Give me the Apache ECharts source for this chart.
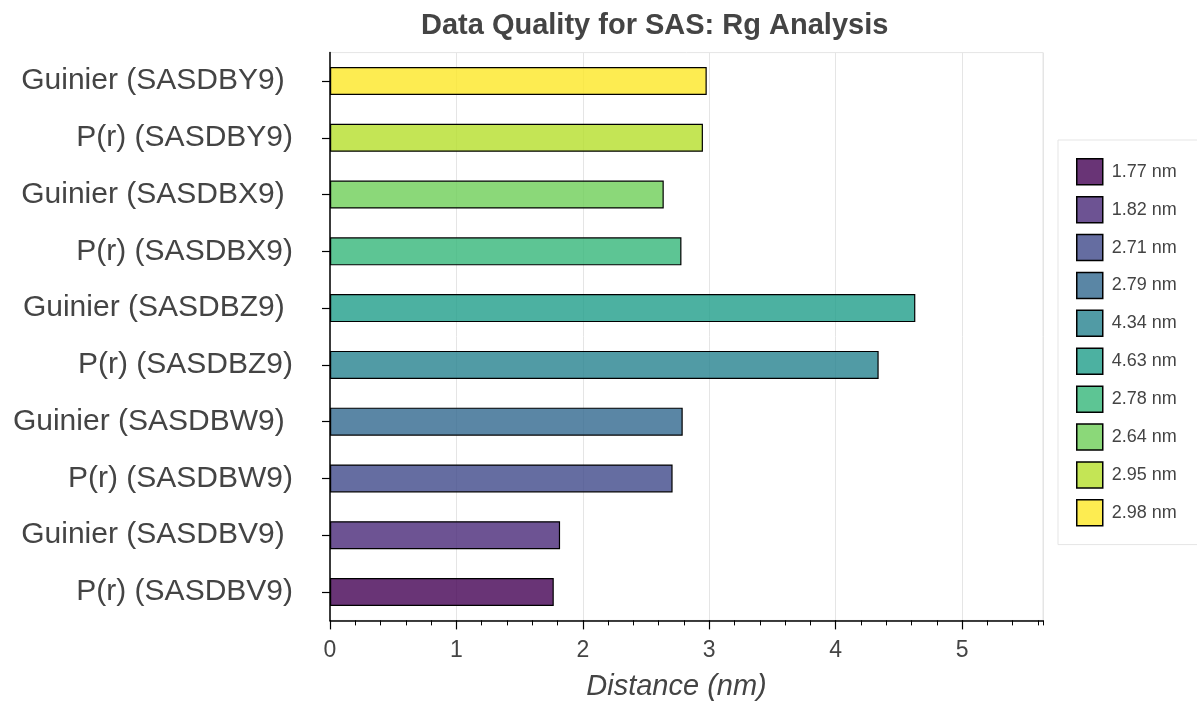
<!DOCTYPE html>
<html>
<head>
<meta charset="utf-8">
<title>Data Quality for SAS: Rg Analysis</title>
<script src="https://cdn.jsdelivr.net/npm/echarts@6/dist/echarts.min.js"></script>
<style>
  html, body { margin: 0; padding: 0; background: #fff; }
  #chart { width: 1197px; height: 702px; }
</style>
</head>
<body>
<div id="chart"></div>
<script>
// categories, bottom to top
const categories = [
  'P(r) (SASDBV9)', 'Guinier (SASDBV9)',
  'P(r) (SASDBW9)', 'Guinier (SASDBW9)',
  'P(r) (SASDBZ9)', 'Guinier (SASDBZ9)',
  'P(r) (SASDBX9)', 'Guinier (SASDBX9)',
  'P(r) (SASDBY9)', 'Guinier (SASDBY9)'
]
const rgValues = [1.77, 1.82, 2.71, 2.79, 4.34, 4.63, 2.78, 2.64, 2.95, 2.98]
const legendNames = ['1.77 nm', '1.82 nm', '2.71 nm', '2.79 nm', '4.34 nm', '4.63 nm', '2.78 nm', '2.64 nm', '2.95 nm', '2.98 nm']
const barColors = [
  'rgba(68,1,84,0.8)', 'rgba(72,40,120,0.8)', 'rgba(62,73,137,0.8)', 'rgba(49,104,142,0.8)',
  'rgba(38,130,142,0.8)', 'rgba(31,158,137,0.8)', 'rgba(53,183,121,0.8)', 'rgba(110,206,88,0.8)',
  'rgba(181,222,43,0.8)', 'rgba(253,231,37,0.8)'
]
const xMax = 5.64

const chart = echarts.init(document.getElementById('chart'))

// one series per bar so each gets its own legend entry
const series = rgValues.map((v, i) => ({
  name: legendNames[i],
  type: 'bar',
  stack: 'rg',
  barWidth: 28,
  xAxisIndex: 0,
  itemStyle: {
    color: barColors[i],
    borderColor: '#000',
    borderWidth: 1.2
  },
  data: categories.map((c, j) => (j === i ? v : '-'))
}))

chart.setOption({
  animation: false,
  title: {
    text: 'Data Quality for SAS: Rg Analysis',
    left: 416,
    top: 6,
    textStyle: {
      fontFamily: 'Liberation Sans',
      fontSize: 29,
      fontWeight: 'bold',
      color: '#444'
    }
  },
  legend: {
    orient: 'vertical',
    left: 1058,
    top: 140,
    width: 100,
    padding: [18, 40, 18, 18],
    itemWidth: 26,
    itemHeight: 26,
    itemGap: 10.4,
    borderColor: '#e5e5e5',
    borderWidth: 1,
    icon: 'rect',
    itemStyle: { borderColor: '#000', borderWidth: 1.5 },
    textStyle: { fontFamily: 'Liberation Sans', fontSize: 18, color: '#444', padding: [0, 0, 0, 4] },
    data: legendNames
  },
  grid: {
    left: 330,
    right: 154,
    top: 52.6,
    bottom: 81.6,
    outerBoundsMode: 'none',
    containLabel: false,
    show: true,
    borderColor: '#e5e5e5',
    borderWidth: 1
  },
  xAxis: [
    {
      type: 'value',
      min: 0,
      max: xMax,
      interval: 1,
      name: 'Distance (nm)',
      nameLocation: 'middle',
      nameGap: 52,
      nameTextStyle: {
        fontFamily: 'Liberation Sans',
        fontSize: 29,
        fontStyle: 'italic',
        color: '#444',
        padding: [0, 20, 0, 0]
      },
      axisLine: { show: true, lineStyle: { color: '#000', width: 1.5 } },
      axisTick: { show: true, length: 9, lineStyle: { color: '#000', width: 1.2 } },
      axisLabel: {
        showMaxLabel: false,
        margin: 19,
        fontFamily: 'Liberation Sans',
        fontSize: 23,
        color: '#444'
      },
      splitLine: { show: true, lineStyle: { color: '#e5e5e5', width: 1 } }
    },
    {
      type: 'value',
      min: 0,
      max: xMax,
      interval: 0.2,
      position: 'bottom',
      axisLine: { show: false },
      axisTick: { show: true, length: 5, lineStyle: { color: '#000', width: 1 } },
      axisLabel: { show: false },
      splitLine: { show: false }
    }
  ],
  yAxis: {
    type: 'category',
    data: categories,
    axisLine: { show: true, lineStyle: { color: '#000', width: 1.5 } },
    axisTick: { show: true, alignWithLabel: true, length: 8, lineStyle: { color: '#000', width: 1.2 } },
    axisLabel: {
      margin: 37,
      fontFamily: 'Liberation Sans',
      fontSize: 30,
      color: '#444',
      // Guinier labels sit a space further left in the original
      formatter: v => (v.indexOf('Guinier') === 0 ? v + ' ' : v)
    },
    splitLine: { show: false }
  },
  series: series
})
</script>
</body>
</html>
